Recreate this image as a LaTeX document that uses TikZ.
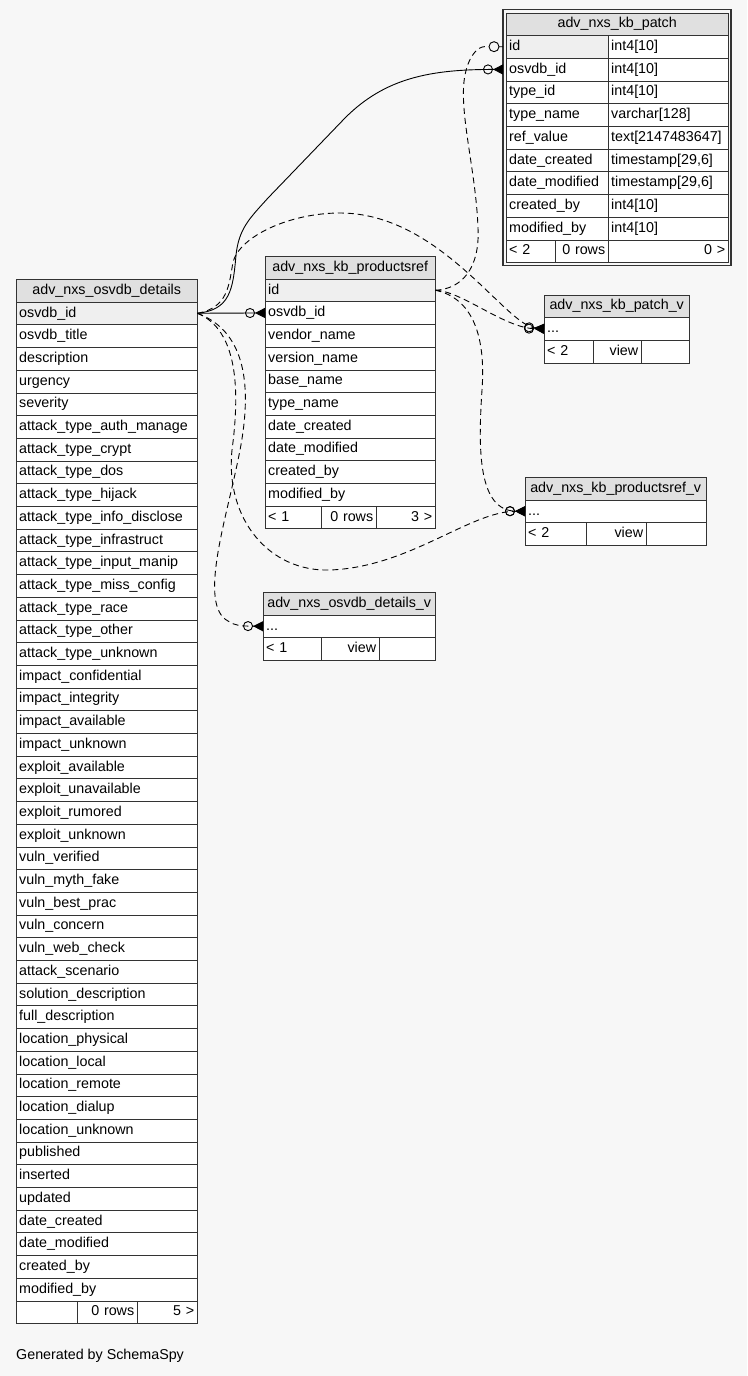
\documentclass[tikz,border=0pt]{standalone}
\usepackage{fontspec}
\setmainfont{Liberation Sans}
\usetikzlibrary{arrows.meta}
\definecolor{bgc}{HTML}{F7F7F7}
\definecolor{hdrc}{HTML}{E0E0E0}
\definecolor{pkc}{HTML}{EFEFEF}
\newcommand{\rowh}{22.7}
\hyphenpenalty=10000

\begin{document}
\begin{tikzpicture}[x=1pt,y=-1pt,font=\fontsize{14.3}{17}\selectfont,
  cell/.style={draw=black!80, fill=white, anchor=north west, minimum height=22.7pt,
    inner xsep=3pt, inner ysep=0pt, text height=10.5pt, text depth=3pt,
    text width=#1, align=left},
  rcell/.style={cell=#1, align=right},
  hdr/.style={cell=#1, fill=hdrc, align=center},
  fk/.style={line width=0.9pt},
  fkdash/.style={fk, dash pattern=on 6pt off 4pt},
  crowmany/.style={-{Circle[open,length=10pt,width=10pt] Triangle[reversed,length=10pt,width=10pt]}},
  onedot/.style={circle, draw, solid, fill=bgc, inner sep=0pt, minimum size=10pt, line width=0.9pt}]
  \fill[bgc] (0,0) rectangle (747,1376);
  \useasboundingbox (0,0) rectangle (747,1376);

  % adv_nxs_osvdb_details
  \begin{scope}[shift={(16,279)}]
    \node[hdr=175pt] (det-h) at (0,0) {adv\_nxs\_osvdb\_details};
    \node[cell=175pt, fill=pkc] (det-osvdb) at (0,\rowh) {osvdb\_id};
    \foreach \col [count=\i from 2] in {osvdb\_title, description, urgency, severity,
      attack\_type\_auth\_manage, attack\_type\_crypt, attack\_type\_dos, attack\_type\_hijack,
      attack\_type\_info\_disclose, attack\_type\_infrastruct, attack\_type\_input\_manip,
      attack\_type\_miss\_config, attack\_type\_race, attack\_type\_other, attack\_type\_unknown,
      impact\_confidential, impact\_integrity, impact\_available, impact\_unknown,
      exploit\_available, exploit\_unavailable, exploit\_rumored, exploit\_unknown,
      vuln\_verified, vuln\_myth\_fake, vuln\_best\_prac, vuln\_concern, vuln\_web\_check,
      attack\_scenario, solution\_description, full\_description, location\_physical,
      location\_local, location\_remote, location\_dialup, location\_unknown, published,
      inserted, updated, date\_created, date\_modified, created\_by, modified\_by}
      \node[cell=175pt] (det-\i) at (0,{\i*\rowh}) {\col};
    \node[cell=55pt] (det-f1) at (0,45*\rowh) {};
    \node[rcell=54pt] (det-f2) at (61,45*\rowh) {0 rows};
    \node[rcell=54pt] (det-f3) at (121,45*\rowh) {5 >};
  \end{scope}

  % adv_nxs_kb_productsref
  \begin{scope}[shift={(265,256)}]
    \node[hdr=164pt] (prd-h) at (0,0) {adv\_nxs\_kb\_productsref};
    \node[cell=164pt, fill=pkc] (prd-id) at (0,\rowh) {id};
    \foreach \col [count=\i from 2] in {osvdb\_id, vendor\_name, version\_name, base\_name,
      type\_name, date\_created, date\_modified, created\_by, modified\_by}
      \node[cell=164pt] (prd-\i) at (0,{\i*\rowh}) {\col};
    \node[cell=50pt] (prd-f1) at (0,11*\rowh) {< 1};
    \node[rcell=49pt] (prd-f2) at (56,11*\rowh) {0 rows};
    \node[rcell=53pt] (prd-f3) at (111,11*\rowh) {3 >};
  \end{scope}

  % adv_nxs_kb_patch
  \begin{scope}[shift={(506,12.5)}]
    \draw[black!80, line width=1.4pt] (-3,-3) rectangle (225,252.7);
    \node[hdr=216pt] (pat-h) at (0,0) {adv\_nxs\_kb\_patch};
    \node[cell=96pt, fill=pkc] (pat-id) at (0,\rowh) {id};
    \node[cell=114pt] (pat-t1) at (102,\rowh) {int4[10]};
    \foreach \col/\typ [count=\i from 2] in {osvdb\_id/int4[10], type\_id/int4[10],
      type\_name/varchar[128], ref\_value/text[2147483647], date\_created/{timestamp[29,6]},
      date\_modified/{timestamp[29,6]}, created\_by/int4[10], modified\_by/int4[10]}
    {
      \node[cell=96pt] (pat-\i) at (0,{\i*\rowh}) {\col};
      \node[cell=114pt] (pat-t\i) at (102,{\i*\rowh}) {\typ};
    }
    \node[cell=43pt] (pat-f1) at (0,10*\rowh) {< 2};
    \node[rcell=47pt] (pat-f2) at (49,10*\rowh) {0 rows};
    \node[rcell=114pt] (pat-f3) at (102,10*\rowh) {0 >};
  \end{scope}

  % adv_nxs_kb_patch_v
  \begin{scope}[shift={(544,294.5)}]
    \node[hdr=139pt] (pv-h) at (0,0) {adv\_nxs\_kb\_patch\_v};
    \node[cell=139pt] (pv-1) at (0,\rowh) {...};
    \node[cell=43pt] (pv-f1) at (0,2*\rowh) {< 2};
    \node[rcell=42pt] (pv-f2) at (49,2*\rowh) {view};
    \node[cell=42pt] (pv-f3) at (97,2*\rowh) {};
  \end{scope}

  % adv_nxs_kb_productsref_v
  \begin{scope}[shift={(525,477)}]
    \node[hdr=175pt] (prv-h) at (0,0) {adv\_nxs\_kb\_productsref\_v};
    \node[cell=175pt] (prv-1) at (0,\rowh) {...};
    \node[cell=55pt] (prv-f1) at (0,2*\rowh) {< 2};
    \node[rcell=54pt] (prv-f2) at (61,2*\rowh) {view};
    \node[cell=54pt] (prv-f3) at (121,2*\rowh) {};
  \end{scope}

  % adv_nxs_osvdb_details_v
  \begin{scope}[shift={(263,592)}]
    \node[hdr=166pt] (dv-h) at (0,0) {adv\_nxs\_osvdb\_details\_v};
    \node[cell=166pt] (dv-1) at (0,\rowh) {...};
    \node[cell=52pt] (dv-f1) at (0,2*\rowh) {< 1};
    \node[rcell=52pt] (dv-f2) at (58,2*\rowh) {view};
    \node[cell=50pt] (dv-f3) at (116,2*\rowh) {};
  \end{scope}

  % relationships
  \draw[fk, crowmany] (det-osvdb.east) .. controls (230,310) and (233,290) .. (236,255)
    .. controls (239,228) and (250,218) .. (268,198) -- (345,118)
    .. controls (385,78) and (430,69.3) .. ([xshift=-3pt]pat-2.west);
  \draw[fk, crowmany] (det-osvdb.east) -- (prd-2.west);
  \draw[fkdash, crowmany] (det-osvdb.east) .. controls (228,308) and (229,285) .. (233,262)
    .. controls (240,236) and (290,213) .. (340,213)
    .. controls (440,213) and (505,325) .. (pv-1.west);
  \draw[fkdash, crowmany] (det-osvdb.east) .. controls (238,330) and (240,390) .. (232,450)
    .. controls (225,520) and (270,572) .. (330,570)
    .. controls (410,567) and (470,511) .. (prv-1.west);
  \draw[fkdash, crowmany] (det-osvdb.east) .. controls (250,333) and (252,395) .. (238,460)
    .. controls (226,520) and (198,605) .. (228,621)
    .. controls (236,626) and (240,626) .. (dv-1.west);
  \draw[fkdash] (prd-id.east) .. controls (462,289) and (480,268) .. (478,228)
    .. controls (476,170) and (458,110) .. (465,75)
    .. controls (469,55) and (478,46.6) .. (485,46.6)
    -- node[onedot] (pat-id-o) {} ([xshift=-3pt]pat-id.west);
  \draw[fkdash, crowmany] (prd-id.east) .. controls (462,291) and (505,328.5) .. (pv-1.west);
  \draw[fkdash, crowmany] (prd-id.east) .. controls (472,298) and (486,335) .. (482,390)
    .. controls (478,450) and (478,511) .. (prv-1.west);

  \node[anchor=west, inner sep=0pt] (credit) at (16,1356) {Generated by SchemaSpy};
\end{tikzpicture}
\end{document}
